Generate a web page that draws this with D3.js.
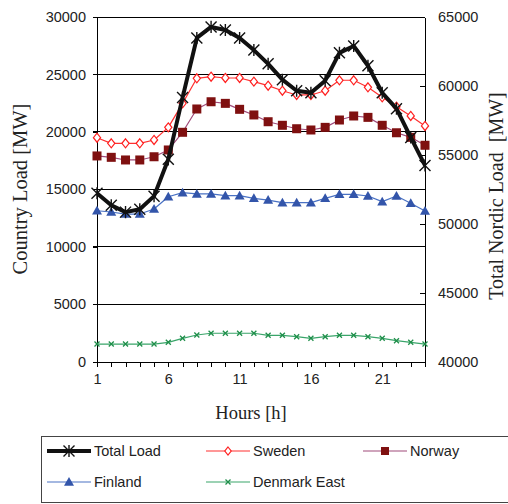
<!DOCTYPE html>
<html><head><meta charset="utf-8">
<script src="https://cdn.jsdelivr.net/npm/d3@7"></script>
<style>
html,body{margin:0;padding:0;background:#fff;}
svg{display:block;}
</style></head>
<body>
<svg id="c" width="508" height="504"></svg>
<script>
const hours = d3.range(1, 25);
const xTickLabels = [1, 6, 11, 16, 21];
const leftTicks = [0, 5000, 10000, 15000, 20000, 25000, 30000];
const rightTicks = [40000, 45000, 50000, 55000, 60000, 65000];

const totalLoad = [52210, 51340, 50840, 51050, 52000, 54670, 59150, 63480, 64280, 64060, 63480, 62600, 61600, 60450, 59650, 59500, 60380, 62400, 62900, 61460, 59500, 58350, 56260, 54230];
const sweden = [19490, 19000, 19000, 19000, 19290, 20390, 22480, 24660, 24800, 24690, 24690, 24370, 24020, 23580, 23210, 23210, 23580, 24490, 24490, 23880, 23010, 22190, 21380, 20510];
const norway = [17900, 17780, 17550, 17550, 17830, 18420, 19960, 21990, 22620, 22480, 21960, 21470, 20880, 20570, 20270, 20160, 20390, 21030, 21380, 21260, 20570, 19920, 19520, 18830];
const finland = [13130, 13020, 12840, 12840, 13280, 14350, 14700, 14590, 14590, 14440, 14440, 14210, 14060, 13830, 13830, 13830, 14210, 14560, 14560, 14410, 13920, 14410, 13780, 13100];
const denmarkEast = [1520, 1520, 1520, 1520, 1520, 1670, 2020, 2310, 2460, 2460, 2460, 2460, 2280, 2280, 2160, 2020, 2160, 2280, 2280, 2160, 2020, 1810, 1670, 1520];

const svg = d3.select("#c");
const L = 97, R = 425, T = 17, B = 361.5;
const x = d3.scaleLinear().domain([1, 24]).range([L, R]);
const yL = d3.scaleLinear().domain([0, 30000]).range([B, T]);
const yR = d3.scaleLinear().domain([40000, 65000]).range([B, T]);

const sans = "'Liberation Sans', Arial, sans-serif";
const serif = "'Liberation Serif', 'Times New Roman', serif";

// gridlines
svg.append("g").selectAll("line").data(leftTicks.filter(d => d > 0)).join("line")
  .attr("x1", L - 4).attr("x2", R).attr("y1", d => yL(d)).attr("y2", d => yL(d))
  .attr("stroke", "#000").attr("stroke-width", 1).attr("shape-rendering", "crispEdges");

// left axis
const gl = svg.append("g").attr("transform", `translate(${L},0)`)
  .call(d3.axisLeft(yL).tickValues(leftTicks).tickSize(4).tickFormat(d3.format("d")));
gl.selectAll("text").attr("font-family", sans).attr("font-size", 14.5).attr("fill", "#222").attr("x", -11);
gl.selectAll("path,line").attr("stroke", "#000").attr("shape-rendering", "crispEdges");

// right axis
const gr = svg.append("g").attr("transform", `translate(${R},0)`)
  .call(d3.axisRight(yR).tickValues(rightTicks).tickSizeInner(-5).tickSizeOuter(0).tickFormat(d3.format("d")));
gr.selectAll("text").attr("font-family", sans).attr("font-size", 14.5).attr("fill", "#222").attr("x", 13);
gr.selectAll("path,line").attr("stroke", "#000").attr("shape-rendering", "crispEdges");

// bottom axis
const gb = svg.append("g").attr("transform", `translate(0,${B})`)
  .call(d3.axisBottom(x).tickValues(hours).tickSizeInner(5).tickSizeOuter(0)
    .tickFormat(d => xTickLabels.includes(d) ? d : ""));
gb.selectAll("text").attr("font-family", sans).attr("font-size", 14.5).attr("fill", "#222").attr("y", 12);
gb.selectAll("path,line").attr("stroke", "#000").attr("shape-rendering", "crispEdges");

// axis titles
svg.append("text").attr("transform", `translate(27,189) rotate(-90)`).attr("text-anchor", "middle")
  .attr("font-family", serif).attr("font-size", 20.5).attr("fill", "#222").text("Country Load [MW]");
svg.append("text").attr("transform", `translate(503,196) rotate(-90)`).attr("text-anchor", "middle")
  .attr("font-family", serif).attr("font-size", 20).attr("fill", "#222").attr("xml:space", "preserve")
  .style("white-space", "pre").text("Total Nordic Load  [MW]");
svg.append("text").attr("x", 251).attr("y", 419).attr("text-anchor", "middle")
  .attr("font-family", serif).attr("font-size", 18.5).attr("fill", "#222").text("Hours [h]");

// marker drawers
function markStar(g, cx, cy, s, color, w) {
  g.append("path").attr("d", `M${cx - s},${cy - s}L${cx + s},${cy + s}M${cx - s},${cy + s}L${cx + s},${cy - s}M${cx},${cy - s * 1.1}L${cx},${cy + s * 1.1}`)
    .attr("stroke", color).attr("stroke-width", w).attr("fill", "none");
}
function markDiamond(g, cx, cy, s, color) {
  g.append("path").attr("d", `M${cx},${cy - s}L${cx + s * 0.8},${cy}L${cx},${cy + s}L${cx - s * 0.8},${cy}Z`)
    .attr("stroke", color).attr("stroke-width", 1.2).attr("fill", "#fff");
}
function markSquare(g, cx, cy, s, color) {
  g.append("rect").attr("x", cx - s).attr("y", cy - s).attr("width", 2 * s).attr("height", 2 * s).attr("fill", color);
}
function markTri(g, cx, cy, s, color) {
  g.append("path").attr("d", `M${cx},${cy - s}L${cx + s},${cy + s * 0.75}L${cx - s},${cy + s * 0.75}Z`).attr("fill", color);
}
function markX(g, cx, cy, s, color) {
  g.append("path").attr("d", `M${cx - s},${cy - s}L${cx + s},${cy + s}M${cx - s},${cy + s}L${cx + s},${cy - s}`)
    .attr("stroke", color).attr("stroke-width", 1.3).attr("fill", "none");
}

const series = [
  { name: "Denmark East", vals: denmarkEast, y: yL, line: "#3aa56a", lw: 1.2, mark: (g, a, b) => markX(g, a, b, 2.5, "#1f8f4a") },
  { name: "Finland", vals: finland, y: yL, line: "#4a72c4", lw: 1.2, mark: (g, a, b) => markTri(g, a, b, 5, "#3355aa") },
  { name: "Norway", vals: norway, y: yL, line: "#a04a7a", lw: 1.2, mark: (g, a, b) => markSquare(g, a, b, 4.5, "#7f1010") },
  { name: "Sweden", vals: sweden, y: yL, line: "#ff3030", lw: 1.2, mark: (g, a, b) => markDiamond(g, a, b, 4.5, "#ff2020") },
  { name: "Total Load", vals: totalLoad, y: yR, line: "#111", lw: 4, mark: (g, a, b) => markStar(g, a, b, 5.5, "#111", 1.4) }
];

series.forEach(s => {
  const g = svg.append("g");
  const line = d3.line().x((d, i) => x(hours[i])).y(d => s.y(d));
  g.append("path").datum(s.vals).attr("d", line).attr("fill", "none")
    .attr("stroke", s.line).attr("stroke-width", s.lw).attr("stroke-linejoin", "round");
  s.vals.forEach((v, i) => s.mark(g, x(hours[i]), s.y(v)));
});

// legend
const lg = svg.append("g");
lg.append("rect").attr("x", 41.5).attr("y", 436.5).attr("width", 480).attr("height", 66)
  .attr("fill", "#fff").attr("stroke", "#444").attr("stroke-width", 1);
const legendItems = [
  { name: "Total Load", x: 47, y: 451, line: "#111", lw: 4, mark: (g, a, b) => markStar(g, a, b, 5.5, "#111", 1.4) },
  { name: "Sweden", x: 206, y: 451, line: "#ff3030", lw: 1.2, mark: (g, a, b) => markDiamond(g, a, b, 4, "#ff2020") },
  { name: "Norway", x: 363, y: 451, line: "#a04a7a", lw: 1.2, mark: (g, a, b) => markSquare(g, a, b, 4, "#7f1010") },
  { name: "Finland", x: 47, y: 482, line: "#4a72c4", lw: 1.2, mark: (g, a, b) => markTri(g, a, b, 5, "#3355aa") },
  { name: "Denmark East", x: 206, y: 482, line: "#3aa56a", lw: 1.2, mark: (g, a, b) => markX(g, a, b, 2.5, "#1f8f4a") }
];
legendItems.forEach(it => {
  lg.append("line").attr("x1", it.x).attr("x2", it.x + 44).attr("y1", it.y).attr("y2", it.y)
    .attr("stroke", it.line).attr("stroke-width", it.lw);
  it.mark(lg, it.x + 22, it.y);
  lg.append("text").attr("x", it.x + 47).attr("y", it.y + 5).attr("font-family", sans)
    .attr("font-size", 14.5).attr("fill", "#222").text(it.name);
});
</script>
</body></html>
